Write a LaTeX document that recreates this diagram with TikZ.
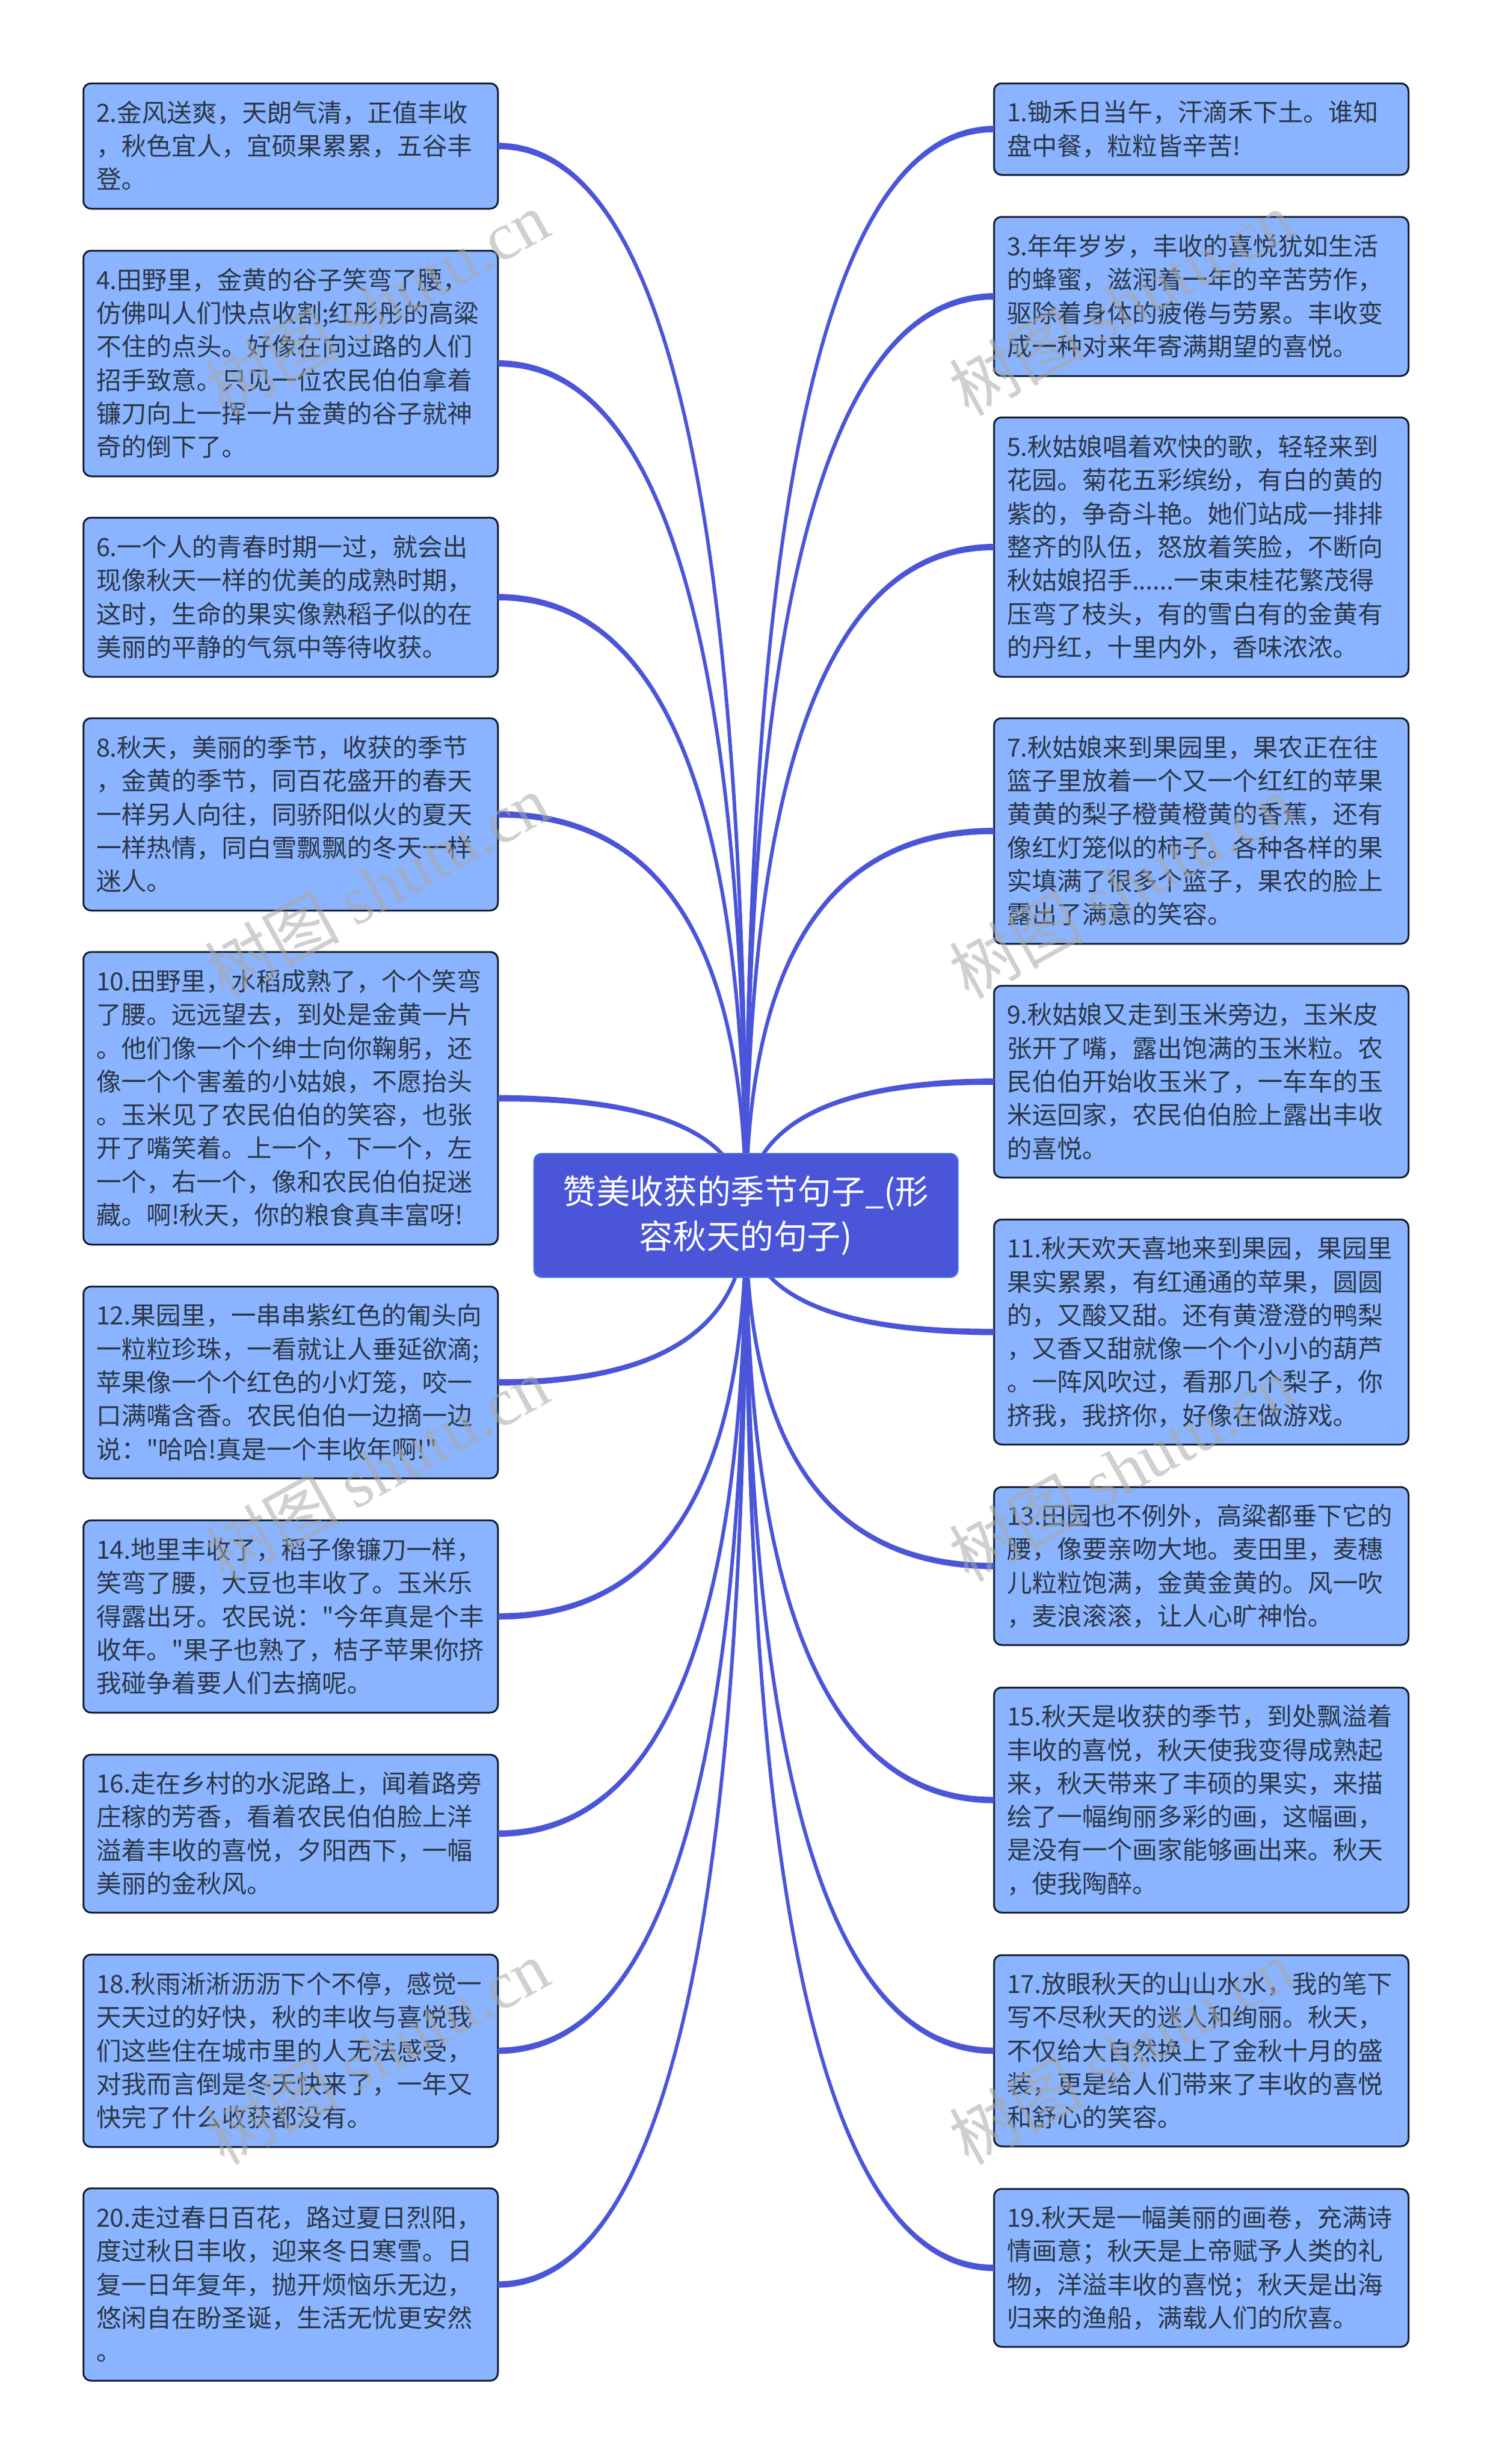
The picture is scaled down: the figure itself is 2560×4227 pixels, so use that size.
\documentclass[tikz,border=0pt]{standalone}
\usepackage{fontspec}
\newfontfamily\cjkfam{Noto Sans CJK SC}
\newfontfamily\wmlatin{Liberation Serif}
\usetikzlibrary{calc}
\definecolor{leaffill}{HTML}{8AB4FF}
\definecolor{leafline}{HTML}{10182B}
\definecolor{leaftext}{HTML}{2C3648}
\definecolor{hubfill}{HTML}{4A55D8}
\definecolor{hubline}{HTML}{3F6FE8}
\definecolor{wmgray}{HTML}{A8A8A8}
\newcommand\leafstrut{\rule{0pt}{44.65pt}\rule[-12.65pt]{0pt}{12.65pt}}
\tikzset{
  leaf/.style={draw=leafline,fill=leaffill,line width=3pt,rounded corners=13pt,
    text=leaftext,font=\cjkfam\fontsize{43}{57.3}\selectfont,align=left,text width=667pt,
    inner xsep=22pt,inner ysep=0pt,outer sep=0pt,minimum width=711pt,anchor=north west},
  hubnode/.style={draw=hubline,fill=hubfill,line width=2.5pt,rounded corners=13pt,
    text=white,font=\cjkfam\fontsize{57.6}{77}\selectfont,align=center,text width=680pt,
    inner sep=0pt,outer sep=0pt,minimum width=727pt,minimum height=212pt},
  link/.style={fill=hubfill,draw=none},
  wm/.style={text=wmgray,text opacity=.55,rotate=29,font=\cjkfam\fontsize{116}{116}\selectfont,inner sep=0pt}
}
% #1 name, #2 x, #3 top, #4 bottom, #5 lines
\newcommand\leafnode[5]{\node[leaf,minimum height={#4pt-#3pt}] (#1) at (#2,#3) {\leafstrut #5\leafstrut};}
% #1 leaf, #2 anchor, #3 x sign of the outer side, #4 y sign of the outer side
\newcommand\conn[4]{%
  \coordinate (s) at (#1.#2);
  \coordinate (k) at (hub |- s);
  \coordinate (sa) at ($(s)+(0,5.5*#4)$);
  \coordinate (sb) at ($(s)+(0,-5.5*#4)$);
  \coordinate (ka) at ($(k)+(3.2*#3,3.2*#4)$);
  \coordinate (kb) at ($(k)+(-3.2*#3,-3.2*#4)$);
  \coordinate (ha) at ($(hub)+(3*#3,0)$);
  \coordinate (hb) at ($(hub)+(-3*#3,0)$);
  \fill[link] (sa) .. controls ($(sa)!2/3!(ka)$) and ($(ha)!2/3!(ka)$) .. (ha)
    -- (hb) .. controls ($(hb)!2/3!(kb)$) and ($(sb)!2/3!(kb)$) .. (sb) -- cycle;}
\begin{document}
\begin{tikzpicture}[x=1pt,y=-1pt]
\useasboundingbox (0,0) rectangle (2560,4227);
\fill[white] (0,0) rectangle (2560,4227);
\coordinate (hub) at (1279.5,2085);
% leaves, left column
\leafnode{n2}{143}{143}{358}{2.金风送爽，天朗气清，正值丰收\\，秋色宜人，宜硕果累累，五谷丰\\登。}
\leafnode{n4}{143}{430}{817}{4.田野里，金黄的谷子笑弯了腰，\\仿佛叫人们快点收割;红彤彤的高粱\\不住的点头。好像在向过路的人们\\招手致意。只见一位农民伯伯拿着\\镰刀向上一挥一片金黄的谷子就神\\奇的倒下了。}
\leafnode{n6}{143}{888}{1161}{6.一个人的青春时期一过，就会出\\现像秋天一样的优美的成熟时期，\\这时，生命的果实像熟稻子似的在\\美丽的平静的气氛中等待收获。}
\leafnode{n8}{143}{1232}{1562}{8.秋天，美丽的季节，收获的季节\\，金黄的季节，同百花盛开的春天\\一样另人向往，同骄阳似火的夏天\\一样热情，同白雪飘飘的冬天一样\\迷人。}
\leafnode{n10}{143}{1633}{2135}{10.田野里，水稻成熟了，个个笑弯\\了腰。远远望去，到处是金黄一片\\。他们像一个个绅士向你鞠躬，还\\像一个个害羞的小姑娘，不愿抬头\\。玉米见了农民伯伯的笑容，也张\\开了嘴笑着。上一个，下一个，左\\一个，右一个，像和农民伯伯捉迷\\藏。啊!秋天，你的粮食真丰富呀!}
\leafnode{n12}{143}{2207}{2536}{12.果园里，一串串紫红色的匍头向\\一粒粒珍珠，一看就让人垂延欲滴;\\苹果像一个个红色的小灯笼，咬一\\口满嘴含香。农民伯伯一边摘一边\\说："哈哈!真是一个丰收年啊!"}
\leafnode{n14}{143}{2608}{2938}{14.地里丰收了，稻子像镰刀一样，\\笑弯了腰，大豆也丰收了。玉米乐\\得露出牙。农民说："今年真是个丰\\收年。"果子也熟了，桔子苹果你挤\\我碰争着要人们去摘呢。}
\leafnode{n16}{143}{3010}{3281}{16.走在乡村的水泥路上，闻着路旁\\庄稼的芳香，看着农民伯伯脸上洋\\溢着丰收的喜悦，夕阳西下，一幅\\美丽的金秋风。}
\leafnode{n18}{143}{3353}{3683}{18.秋雨淅淅沥沥下个不停，感觉一\\天天过的好快，秋的丰收与喜悦我\\们这些住在城市里的人无法感受，\\对我而言倒是冬天快来了，一年又\\快完了什么收获都没有。}
\leafnode{n20}{143}{3754}{4084}{20.走过春日百花，路过夏日烈阳，\\度过秋日丰收，迎来冬日寒雪。日\\复一日年复年，抛开烦恼乐无边，\\悠闲自在盼圣诞，生活无忧更安然\\。}
% leaves, right column
\leafnode{n1}{1705}{143}{300}{1.锄禾日当午，汗滴禾下土。谁知\\盘中餐，粒粒皆辛苦!}
\leafnode{n3}{1705}{372}{645}{3.年年岁岁，丰收的喜悦犹如生活\\的蜂蜜，滋润着一年的辛苦劳作，\\驱除着身体的疲倦与劳累。丰收变\\成一种对来年寄满期望的喜悦。}
\leafnode{n5}{1705}{716}{1161}{5.秋姑娘唱着欢快的歌，轻轻来到\\花园。菊花五彩缤纷，有白的黄的\\紫的，争奇斗艳。她们站成一排排\\整齐的队伍，怒放着笑脸，不断向\\秋姑娘招手......一束束桂花繁茂得\\压弯了枝头，有的雪白有的金黄有\\的丹红，十里内外，香味浓浓。}
\leafnode{n7}{1705}{1232}{1619}{7.秋姑娘来到果园里，果农正在往\\篮子里放着一个又一个红红的苹果\\黄黄的梨子橙黄橙黄的香蕉，还有\\像红灯笼似的柿子。各种各样的果\\实填满了很多个篮子，果农的脸上\\露出了满意的笑容。}
\leafnode{n9}{1705}{1691}{2020}{9.秋姑娘又走到玉米旁边，玉米皮\\张开了嘴，露出饱满的玉米粒。农\\民伯伯开始收玉米了，一车车的玉\\米运回家，农民伯伯脸上露出丰收\\的喜悦。}
\leafnode{n11}{1705}{2092}{2478}{11.秋天欢天喜地来到果园，果园里\\果实累累，有红通通的苹果，圆圆\\的，又酸又甜。还有黄澄澄的鸭梨\\，又香又甜就像一个个小小的葫芦\\。一阵风吹过，看那几个梨子，你\\挤我，我挤你，好像在做游戏。}
\leafnode{n13}{1705}{2551}{2822}{13.田园也不例外，高粱都垂下它的\\腰，像要亲吻大地。麦田里，麦穗\\儿粒粒饱满，金黄金黄的。风一吹\\，麦浪滚滚，让人心旷神怡。}
\leafnode{n15}{1705}{2895}{3281}{15.秋天是收获的季节，到处飘溢着\\丰收的喜悦，秋天使我变得成熟起\\来，秋天带来了丰硕的果实，来描\\绘了一幅绚丽多彩的画，这幅画，\\是没有一个画家能够画出来。秋天\\，使我陶醉。}
\leafnode{n17}{1705}{3354}{3682}{17.放眼秋天的山山水水，我的笔下\\写不尽秋天的迷人和绚丽。秋天，\\不仅给大自然换上了金秋十月的盛\\装，更是给人们带来了丰收的喜悦\\和舒心的笑容。}
\leafnode{n19}{1705}{3755}{4026}{19.秋天是一幅美丽的画卷，充满诗\\情画意；秋天是上帝赋予人类的礼\\物，洋溢丰收的喜悦；秋天是出海\\归来的渔船，满载人们的欣喜。}
% connectors
\conn{n2}{east}{1}{-1}\conn{n4}{east}{1}{-1}\conn{n6}{east}{1}{-1}\conn{n8}{east}{1}{-1}\conn{n10}{east}{1}{-1}
\conn{n12}{east}{1}{1}\conn{n14}{east}{1}{1}\conn{n16}{east}{1}{1}\conn{n18}{east}{1}{1}\conn{n20}{east}{1}{1}
\conn{n1}{west}{-1}{-1}\conn{n3}{west}{-1}{-1}\conn{n5}{west}{-1}{-1}\conn{n7}{west}{-1}{-1}\conn{n9}{west}{-1}{-1}
\conn{n11}{west}{-1}{1}\conn{n13}{west}{-1}{1}\conn{n15}{west}{-1}{1}\conn{n17}{west}{-1}{1}\conn{n19}{west}{-1}{1}
% centre
\node[hubnode] (hubbox) at (hub) {赞美收获的季节句子\_(形\\容秋天的句子)};
% watermarks
\foreach \wx/\wy/\wn in {646/520/a,646/1520/b,646/2520/c,646/3520/d,1923/520/e,1923/1520/f,1923/2520/g,1923/3520/h}{
  \node[wm] (wm\wn) at (\wx,\wy) {树图 {\wmlatin shutu.cn}};
}
\end{tikzpicture}
\end{document}
